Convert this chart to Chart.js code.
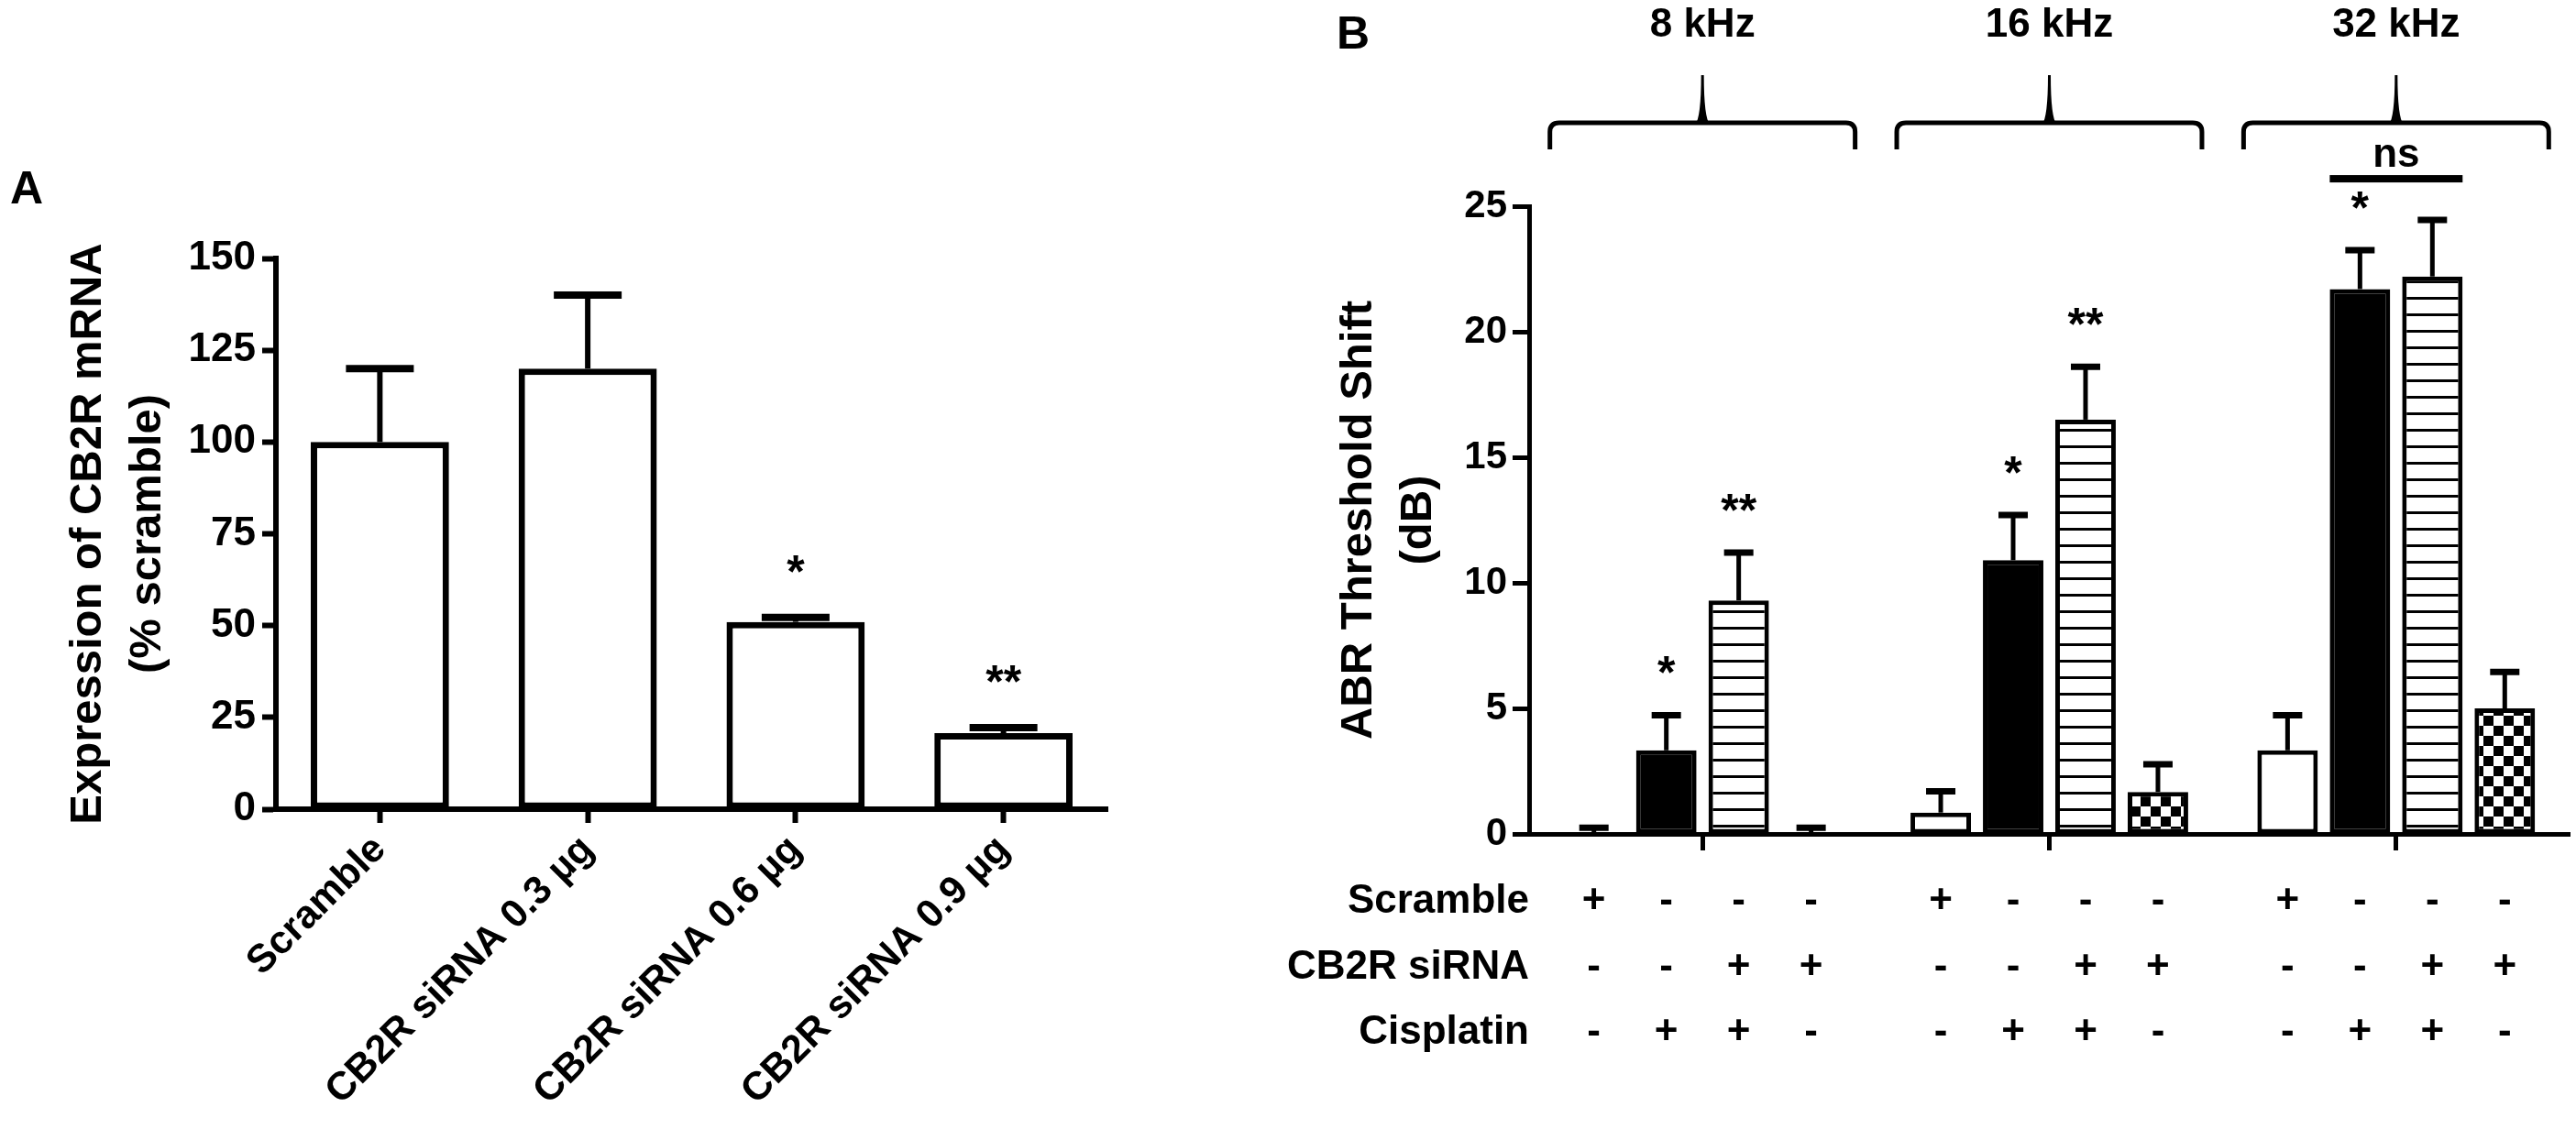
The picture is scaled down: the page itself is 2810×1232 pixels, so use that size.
<!DOCTYPE html>
<html>
<head>
<meta charset="utf-8">
<script src="https://cdn.jsdelivr.net/npm/chart.js@4.4.1/dist/chart.umd.min.js"></script>
<style>
  html, body { margin: 0; padding: 0; background: #fff; }
  body { width: 2810px; height: 1232px; position: relative; overflow: hidden; }
  canvas { position: absolute; top: 0; }
  #chartA { left: 0; }
  #chartB { left: 1400px; }
</style>
</head>
<body>
<canvas id="chartA" width="1300" height="1232"></canvas>
<canvas id="chartB" width="1410" height="1232"></canvas>
<script>
// ---- panel A: CB2R mRNA expression ----
const mrnaGroups = ['Scramble', 'CB2R siRNA 0.3 µg', 'CB2R siRNA 0.6 µg', 'CB2R siRNA 0.9 µg'];
const mrnaMeans = [100, 120, 51, 20.7];
const mrnaSem = [20, 20, 1.2, 1.5];
const mrnaStars = ['', '', '*', '**'];
const mrnaTicks = [0, 25, 50, 75, 100, 125, 150];

// ---- panel B: ABR threshold shift ----
const frequencies = ['8 kHz', '16 kHz', '32 kHz'];
const scrambleShift = [0, 0.85, 3.33];
const scrambleSem = [0.25, 0.85, 1.4];
const cisplatinShift = [3.33, 10.9, 21.7];
const cisplatinSem = [1.4, 1.8, 1.55];
const sirnaCisShift = [9.3, 16.5, 22.2];
const sirnaCisSem = [1.9, 2.1, 2.25];
const sirnaShift = [0, 1.67, 5.0];
const sirnaSem = [0.25, 1.1, 1.45];
const cisplatinStars = ['*', '*', '*'];
const sirnaCisStars = ['**', '**', ''];
const shiftTicks = [0, 5, 10, 15, 20, 25];

// treatment table under panel B (one entry per bar in a group)
const rowLabels = ['Scramble', 'CB2R siRNA', 'Cisplatin'];
const rowSigns = [
  ['+', '-', '-', '-'],
  ['-', '-', '+', '+'],
  ['-', '+', '+', '-']
];
const nsGroup = 2;
const nsBars = [1, 2];

const FONT = "'Liberation Sans', Arial, Helvetica, sans-serif";
Chart.defaults.font.family = FONT;
Chart.defaults.color = '#000';

function stripePattern() {
  const c = document.createElement('canvas');
  c.width = 4; c.height = 18;
  const g = c.getContext('2d');
  g.fillStyle = '#fff'; g.fillRect(0, 0, 4, 18);
  g.fillStyle = '#000'; g.fillRect(0, 0, 4, 3);
  return g.createPattern(c, 'repeat');
}

function checkerPattern() {
  const c = document.createElement('canvas');
  c.width = 22; c.height = 22;
  const g = c.getContext('2d');
  g.fillStyle = '#fff'; g.fillRect(0, 0, 22, 22);
  g.fillStyle = '#000';
  g.fillRect(0, 0, 11, 11);
  g.fillRect(11, 11, 11, 11);
  return g.createPattern(c, 'repeat');
}

// upward SEM bars + significance stars
const errorBars = {
  id: 'errorBars',
  afterDatasetsDraw(chart, args, o) {
    const {ctx} = chart;
    const y = chart.scales.y;
    chart.data.datasets.forEach((ds, i) => {
      chart.getDatasetMeta(i).data.forEach((bar, j) => {
        const v = ds.data[j];
        const yTop = y.getPixelForValue(v + ds.errors[j]);
        const yBase = y.getPixelForValue(v);
        ctx.save();
        ctx.strokeStyle = '#000';
        ctx.lineWidth = o.lineWidth;
        ctx.beginPath();
        ctx.moveTo(bar.x, yBase);
        ctx.lineTo(bar.x, yTop);
        ctx.stroke();
        ctx.lineWidth = o.capThickness;
        ctx.beginPath();
        ctx.moveTo(bar.x - o.capWidth / 2, yTop);
        ctx.lineTo(bar.x + o.capWidth / 2, yTop);
        ctx.stroke();
        const s = ds.stars && ds.stars[j];
        if (s) {
          ctx.fillStyle = '#000';
          ctx.font = `bold ${o.starSize}px ${FONT}`;
          ctx.textAlign = 'center';
          ctx.textBaseline = 'alphabetic';
          ctx.fillText(s, bar.x, yTop - o.starGap);
        }
        ctx.restore();
      });
    });
  }
};

const panelLetter = {
  id: 'panelLetter',
  afterDraw(chart, args, o) {
    const {ctx} = chart;
    ctx.save();
    ctx.fillStyle = '#000';
    ctx.font = `bold 50px ${FONT}`;
    ctx.textAlign = 'left';
    ctx.textBaseline = 'alphabetic';
    ctx.fillText(o.text, o.x, o.y);
    ctx.restore();
  }
};

function drawBrace(ctx, left, right, cx, yLine, yEnd, ySpike) {
  const r = 10;
  ctx.lineWidth = 5;
  ctx.beginPath();
  ctx.moveTo(left, yEnd);
  ctx.lineTo(left, yLine + r);
  ctx.quadraticCurveTo(left, yLine, left + r, yLine);
  ctx.lineTo(right - r, yLine);
  ctx.quadraticCurveTo(right, yLine, right, yLine + r);
  ctx.lineTo(right, yEnd);
  ctx.stroke();
  ctx.beginPath();
  ctx.moveTo(cx - 8, yLine + 2);
  ctx.quadraticCurveTo(cx - 1.5, yLine - 6, cx - 1.5, ySpike);
  ctx.lineTo(cx + 1.5, ySpike);
  ctx.quadraticCurveTo(cx + 1.5, yLine - 6, cx + 8, yLine + 2);
  ctx.closePath();
  ctx.fill();
}

// frequency braces, "ns" bracket and the +/- table of panel B
const groupDecor = {
  id: 'groupDecor',
  afterDraw(chart) {
    const {ctx, chartArea, scales: {x, y}} = chart;
    const catW = x.width / frequencies.length;
    const top = chartArea.top;
    ctx.save();
    ctx.fillStyle = '#000';
    ctx.strokeStyle = '#000';

    frequencies.forEach((label, i) => {
      const cx = x.getPixelForTick(i);
      ctx.font = `bold 44px ${FONT}`;
      ctx.textAlign = 'center';
      ctx.textBaseline = 'alphabetic';
      ctx.fillText(label, cx, top - 185);
      drawBrace(ctx, cx - catW * 0.44, cx + catW * 0.44, cx, top - 91, top - 62, top - 143);
    });

    const ds = chart.data.datasets;
    const b1 = chart.getDatasetMeta(nsBars[0]).data[nsGroup];
    const b2 = chart.getDatasetMeta(nsBars[1]).data[nsGroup];
    const capY = Math.min(
      y.getPixelForValue(ds[nsBars[0]].data[nsGroup] + ds[nsBars[0]].errors[nsGroup]),
      y.getPixelForValue(ds[nsBars[1]].data[nsGroup] + ds[nsBars[1]].errors[nsGroup])
    );
    const lineY = capY - 45;
    const l = b1.x - b1.width / 2, r = b2.x + b2.width / 2;
    ctx.fillRect(l, lineY - 4, r - l, 8);
    ctx.font = `bold 44px ${FONT}`;
    ctx.textAlign = 'center';
    ctx.fillText('ns', (l + r) / 2, lineY - 13);

    const rowOffsets = [86, 158, 229];
    rowLabels.forEach((label, rIdx) => {
      const by = chartArea.bottom + rowOffsets[rIdx];
      ctx.font = `bold 44px ${FONT}`;
      ctx.textAlign = 'right';
      ctx.fillText(label, chartArea.left, by);
      ctx.textAlign = 'center';
      rowSigns[rIdx].forEach((sign, dIdx) => {
        chart.getDatasetMeta(dIdx).data.forEach(bar => {
          ctx.fillText(sign, bar.x, by);
        });
      });
    });
    ctx.restore();
  }
};

// ---- chart A ----
new Chart(document.getElementById('chartA'), {
  type: 'bar',
  data: {
    labels: mrnaGroups,
    datasets: [{
      data: mrnaMeans,
      errors: mrnaSem,
      stars: mrnaStars,
      backgroundColor: '#fff',
      borderColor: '#000',
      borderWidth: 7,
      borderSkipped: false,
      barPercentage: 0.665,
      categoryPercentage: 1
    }]
  },
  options: {
    responsive: false,
    animation: false,
    devicePixelRatio: 1,
    layout: { padding: { top: 282, right: 92, bottom: 0, left: 0 } },
    plugins: {
      legend: { display: false },
      tooltip: { enabled: false },
      errorBars: { lineWidth: 6, capWidth: 74, capThickness: 8, starSize: 50, starGap: 33 },
      panelLetter: { text: 'A', x: 11, y: 222 }
    },
    scales: {
      x: {
        grid: { offset: false, drawOnChartArea: false, tickLength: 15, tickWidth: 6, tickColor: '#000' },
        border: { color: '#000', width: 6 },
        ticks: { minRotation: 45, maxRotation: 45, font: { size: 43, weight: 'bold' }, padding: 4, color: '#000' },
        afterFit: s => { s.height = 349; }
      },
      y: {
        min: 0,
        max: 150,
        afterBuildTicks: s => { s.ticks = mrnaTicks.map(v => ({ value: v })); },
        grid: { drawOnChartArea: false, tickLength: 15, tickWidth: 6, tickColor: '#000' },
        border: { color: '#000', width: 6 },
        ticks: { font: { size: 44, weight: 'bold' }, padding: 7, color: '#000' },
        title: {
          display: true,
          text: ['Expression of CB2R mRNA', '(% scramble)'],
          font: { size: 49, weight: 'bold', lineHeight: 1.33 },
          padding: { top: 64, bottom: 0 },
          color: '#000'
        },
        afterFit: s => { s.width = 301; }
      }
    }
  },
  plugins: [errorBars, panelLetter]
});

// ---- chart B ----
const barCommon = { borderColor: '#000', borderWidth: 5, borderSkipped: false, barPercentage: 0.835, categoryPercentage: 0.835 };

new Chart(document.getElementById('chartB'), {
  type: 'bar',
  data: {
    labels: frequencies,
    datasets: [
      Object.assign({ data: scrambleShift, errors: scrambleSem, backgroundColor: '#fff' }, barCommon),
      Object.assign({ data: cisplatinShift, errors: cisplatinSem, stars: cisplatinStars, backgroundColor: '#000' }, barCommon),
      Object.assign({ data: sirnaCisShift, errors: sirnaCisSem, stars: sirnaCisStars, backgroundColor: stripePattern() }, barCommon),
      Object.assign({ data: sirnaShift, errors: sirnaSem, backgroundColor: checkerPattern() }, barCommon)
    ]
  },
  options: {
    responsive: false,
    animation: false,
    devicePixelRatio: 1,
    layout: { padding: { top: 225, right: 7, bottom: 0, left: 0 } },
    plugins: {
      legend: { display: false },
      tooltip: { enabled: false },
      errorBars: { lineWidth: 5, capWidth: 32, capThickness: 7, starSize: 50, starGap: 29 },
      panelLetter: { text: 'B', x: 58, y: 53 }
    },
    scales: {
      x: {
        grid: { offset: false, drawOnChartArea: false, tickLength: 18, tickWidth: 5, tickColor: '#000' },
        border: { color: '#000', width: 5 },
        ticks: { display: false },
        afterFit: s => { s.height = 322; }
      },
      y: {
        min: 0,
        max: 25,
        afterBuildTicks: s => { s.ticks = shiftTicks.map(v => ({ value: v })); },
        grid: { drawOnChartArea: false, tickLength: 18, tickWidth: 5, tickColor: '#000' },
        border: { color: '#000', width: 5 },
        ticks: { font: { size: 42, weight: 'bold' }, padding: 6, color: '#000' },
        title: {
          display: true,
          text: ['ABR Threshold Shift', '(dB)'],
          font: { size: 49, weight: 'bold', lineHeight: 1.33 },
          padding: { top: 50, bottom: 0 },
          color: '#000'
        },
        afterFit: s => { s.width = 268; }
      }
    }
  },
  plugins: [errorBars, panelLetter, groupDecor]
});
</script>
</body>
</html>
